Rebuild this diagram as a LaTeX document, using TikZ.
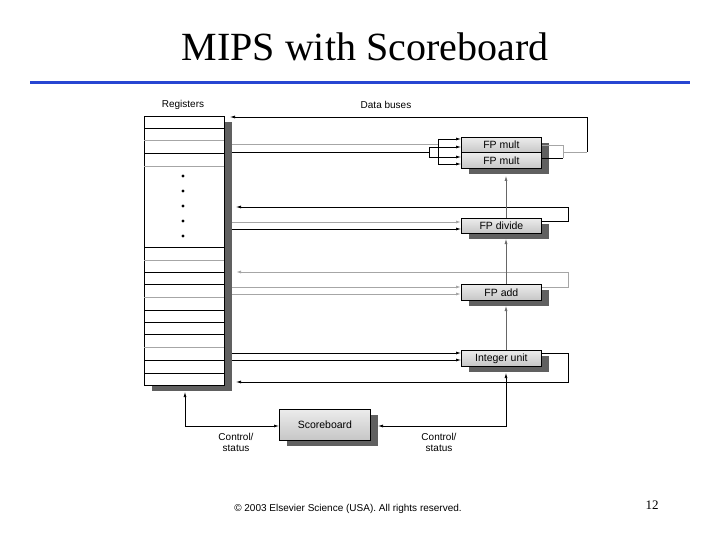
\documentclass[tikz,border=0pt]{standalone}
\usepackage{fontspec}
\setmainfont{Liberation Serif}
\newfontfamily\arial{Liberation Sans}
\usetikzlibrary{arrows.meta}
\begin{document}
\begin{tikzpicture}[x=1pt,y=-1pt,
  unit/.style={draw=black,line width=0.8pt,top color=gray!15,bottom color=gray!45,font=\arial\fontsize{10.5}{11}\selectfont,anchor=north west,inner sep=0pt},
  shadow/.style={fill=gray!75!black,draw=none},
  bk/.style={line width=0.7pt,black},
  gr/.style={line width=0.9pt,gray!70},
  tip/.style={-{Latex[length=5pt,width=3pt]}},
  lbl/.style={font=\arial\fontsize{10}{11}\selectfont,align=center}]
\useasboundingbox (0,0) rectangle (720,540);
\node[font=\fontsize{40}{44}\selectfont] (title) at (365,47) {MIPS with Scoreboard};
\draw[line width=3pt,color={rgb,255:red,40;green,70;blue,210}] (30,83) -- (690,83);
% registers
\fill[shadow] (152,122) rectangle (232,391);
\node[draw=black,fill=white,line width=0.8pt,minimum width=80pt,minimum height=269pt,anchor=north west,inner sep=0pt] (reg) at (144,116) {};
\foreach \y in {128,153,247,272,284,310,322,334,360,373} \draw[bk] (144,\y) -- (224,\y);
\foreach \y in {140,166,260,297,347} \draw[gr] (144,\y) -- (224,\y);
\foreach \y in {176,191,206,221,236} \fill (183,\y) circle (1.6pt);
\node[lbl] (rl) at (183,105) {Registers};
\node[lbl] (dl) at (386,105) {Data buses};
% units
\fill[shadow] (469,143) rectangle (549,174);
\fill[shadow] (469,224) rectangle (549,239);
\fill[shadow] (469,290) rectangle (549,306);
\fill[shadow] (469,356) rectangle (549,372);
\fill[shadow] (287,415) rectangle (378,446);
\node[unit,minimum width=80pt,minimum height=15.5pt] (m1) at (461,137) {FP mult};
\node[unit,minimum width=80pt,minimum height=15.5pt] (m2) at (461,152.5) {FP mult};
\node[unit,minimum width=80pt,minimum height=15pt] (dv) at (461,218) {FP divide};
\node[unit,minimum width=80pt,minimum height=16pt] (ad) at (461,284) {FP add};
\node[unit,minimum width=80pt,minimum height=16pt] (iu) at (461,350) {Integer unit};
\node[unit,minimum width=91pt,minimum height=31pt] (sb) at (279,409) {Scoreboard};
% FP mult buses
\draw[gr] (232,144) -- (438,144);
\draw[bk] (232,152) -- (429,152);
\draw[bk] (438,139) -- (438,164);
\draw[bk] (429,147) -- (429,157);
\draw[bk,tip] (438,139) -- (m1.west |- 0,139);
\draw[bk,tip] (438,164) -- (m2.west |- 0,164);
\draw[bk,tip] (429,147) -- (m1.west |- 0,147);
\draw[bk,tip] (429,157) -- (m2.west |- 0,157);
\draw[gr] (m1.east |- 0,145) -- (563,145) -- (563,158);
\draw[bk] (m2.east |- 0,158) -- (563,158);
\draw[gr] (563,152) -- (587,152);
\draw[bk,tip] (587,152) -- (587,117) -- (230,117);
% FP divide
\draw[gr,tip] (232,222) -- (dv.west |- 0,222);
\draw[bk,tip] (232,229) -- (dv.west |- 0,229);
\draw[bk,tip] (dv.east |- 0,221) -- (568,221) -- (568,207) -- (236,207);
% FP add
\draw[gr,tip] (232,287) -- (ad.west |- 0,287);
\draw[gr,tip] (232,294) -- (ad.west |- 0,294);
\draw[gr,tip] (ad.east |- 0,287) -- (568,287) -- (568,272) -- (236,272);
% Integer unit
\draw[bk,tip] (232,353) -- (iu.west |- 0,353);
\draw[bk,tip] (232,360) -- (iu.west |- 0,360);
\draw[bk,tip] (iu.east |- 0,353) -- (568,353) -- (568,382) -- (236,382);
% vertical control lines
\draw[gray!80!black,line width=0.6pt,tip] (506,350) -- (506,306);
\draw[gray!80!black,line width=0.6pt,tip] (506,284) -- (506,239);
\draw[gray!80!black,line width=0.6pt,tip] (506,218) -- (506,176);
\draw[bk,{Latex[length=5pt,width=3pt]}-{Latex[length=5pt,width=3pt]}] (378,426) -- (506,426) -- (506,373);
\draw[bk,{Latex[length=5pt,width=3pt]}-{Latex[length=5pt,width=3pt]}] (sb.west |- 0,426) -- (185,426) -- (185,392);
\node[lbl] (c1) at (236,442) {Control/\\status};
\node[lbl] (c2) at (439,442) {Control/\\status};
\node[font=\arial\fontsize{10}{10}\selectfont] (cp) at (348,509) {© 2003 Elsevier Science (USA). All rights reserved.};
\node[font=\fontsize{13}{14}\selectfont] (pg) at (652,505) {12};
\end{tikzpicture}
\end{document}
